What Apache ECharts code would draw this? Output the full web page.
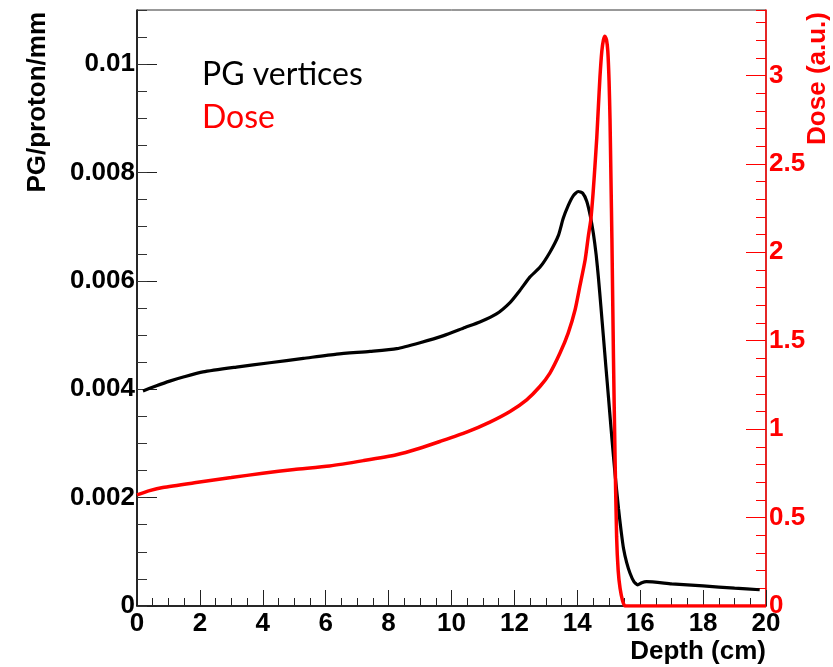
<!DOCTYPE html>
<html>
<head>
<meta charset="utf-8">
<script src="https://cdn.jsdelivr.net/npm/echarts@6/dist/echarts.min.js"></script>
<style>
  html, body { margin: 0; padding: 0; background: #fff; }
  #chart { width: 833px; height: 667px; }
</style>
</head>
<body>
<div id="chart"></div>
<script>
// Prompt-gamma vertex yield (left axis) and dose profile (right axis) vs depth
const pgDepth = [0.19, 0.6, 1.04, 1.5, 2.1, 3.16, 4.22, 5.29, 6.35, 7.41, 8.26, 9.0, 9.75, 10.43, 10.9, 11.43, 11.86, 12.17, 12.49, 12.81, 13.13, 13.4, 13.55, 13.71, 13.87, 14.03, 14.17, 14.3, 14.42, 14.51, 14.6, 14.67, 14.75, 14.83, 14.91, 14.99, 15.07, 15.15, 15.23, 15.31, 15.39, 15.47, 15.57, 15.68, 15.8, 15.92, 16.05, 16.2, 17.0, 18.0, 19.0, 19.8];
const pgValue = [0.00397, 0.00406, 0.00415, 0.00423, 0.00432, 0.00441, 0.00449, 0.00457, 0.00465, 0.0047, 0.00475, 0.00486, 0.00499, 0.00514, 0.00524, 0.00539, 0.0056, 0.00582, 0.00607, 0.00625, 0.00653, 0.00684, 0.00715, 0.00739, 0.00757, 0.00765, 0.00762, 0.00747, 0.00718, 0.00688, 0.00648, 0.00607, 0.00553, 0.00497, 0.00441, 0.00386, 0.0033, 0.00276, 0.00226, 0.0018, 0.0014, 0.00106, 0.0008, 0.0006, 0.00045, 0.00039, 0.00043, 0.00045, 0.00041, 0.00037, 0.00033, 0.0003];

const doseDepth = [0.0, 0.4, 0.82, 1.88, 3.0, 4.0, 5.0, 6.12, 7.2, 8.25, 8.99, 9.63, 10.48, 11.22, 11.86, 12.39, 12.81, 13.13, 13.45, 13.71, 13.93, 14.08, 14.25, 14.35, 14.43, 14.5, 14.56, 14.62, 14.67, 14.72, 14.78, 14.83, 14.88, 14.93, 14.97, 15.01, 15.04, 15.07, 15.1, 15.15, 15.2, 15.25, 15.3, 15.36, 15.44, 15.52, 16.0, 20.0];
const doseValue = [0.628, 0.652, 0.67, 0.698, 0.726, 0.751, 0.772, 0.792, 0.822, 0.855, 0.892, 0.93, 0.983, 1.04, 1.1, 1.166, 1.241, 1.317, 1.43, 1.543, 1.675, 1.807, 1.958, 2.09, 2.185, 2.33, 2.485, 2.65, 2.822, 2.99, 3.137, 3.2, 3.222, 3.2, 3.137, 2.97, 2.755, 2.42, 2.08, 1.405, 0.843, 0.392, 0.2, 0.1, 0.03, 0.0, 0.0, 0.0];

const legendLabels = ['PG vertices', 'Dose'];
const axisTitles = { x: 'Depth (cm)', yLeft: 'PG/proton/mm', yRight: 'Dose (a.u.)' };

const RED = '#ff0000';
const tickFont = { fontFamily: 'Liberation Sans', fontWeight: 'bold', fontSize: 26 };

const chart = echarts.init(document.getElementById('chart'), null, { renderer: 'canvas' });

function trimNum(v) { return String(parseFloat(v.toFixed(5))); }
function majorOnly(step) {
  return function (v) {
    const k = Math.round(v / step);
    return Math.abs(k * step - v) < 1e-9 ? trimNum(v) : '';
  };
}

const pgData = pgDepth.map((d, i) => [d, pgValue[i]]);
const doseData = doseDepth.map((d, i) => [d, doseValue[i]]);

chart.setOption({
  animation: false,
  backgroundColor: '#fff',
  grid: { left: 137, right: 67, top: 10, bottom: 61, show: true, borderColor: '#333', borderWidth: 1, backgroundColor: 'transparent' },
  xAxis: [
    {
      type: 'value', min: 0, max: 20, interval: 2, position: 'bottom',
      axisLine: { lineStyle: { color: '#000', width: 1.5 } },
      axisTick: { inside: true, length: 16, lineStyle: { color: '#222', width: 1 } },
      axisLabel: Object.assign({ color: '#000', margin: 5, formatter: majorOnly(2) }, tickFont),
      splitLine: { show: false }
    },
    {
      type: 'value', min: 0, max: 20, interval: 0.5, position: 'bottom',
      axisLine: { show: false },
      axisTick: { inside: true, length: 8, lineStyle: { color: '#222', width: 1 } },
      axisLabel: { show: false },
      splitLine: { show: false }
    }
  ],
  yAxis: [
    {
      type: 'value', min: 0, max: 0.011, interval: 0.002, position: 'left',
      axisLine: { show: true, lineStyle: { color: '#000', width: 1.5 } },
      axisTick: { inside: true, length: 20, lineStyle: { color: '#222', width: 1 } },
      axisLabel: Object.assign({ color: '#000', margin: 2, showMaxLabel: false, formatter: majorOnly(0.002) }, tickFont),
      splitLine: { show: false }
    },
    {
      type: 'value', min: 0, max: 0.011, interval: 0.0005, position: 'left',
      axisLine: { show: false },
      axisTick: { inside: true, length: 10, lineStyle: { color: '#333', width: 1 } },
      axisLabel: { show: false },
      splitLine: { show: false }
    },
    {
      type: 'value', min: 0, max: 3.37, interval: 0.5, position: 'right',
      axisLine: { show: true, lineStyle: { color: RED, width: 1.5 } },
      axisTick: { inside: true, length: 20, lineStyle: { color: RED, width: 1 } },
      axisLabel: Object.assign({ color: RED, margin: 3, showMaxLabel: false, formatter: majorOnly(0.5) }, tickFont),
      splitLine: { show: false }
    },
    {
      type: 'value', min: 0, max: 3.37, interval: 0.1, position: 'right',
      axisLine: { show: false },
      axisTick: { inside: true, length: 10, lineStyle: { color: RED, width: 1 } },
      axisLabel: { show: false },
      splitLine: { show: false }
    }
  ],
  series: [
    {
      name: legendLabels[0], type: 'line', xAxisIndex: 0, yAxisIndex: 0,
      data: pgData, showSymbol: false, smooth: 0.2,
      lineStyle: { color: '#000', width: 3.2 }, z: 3
    },
    {
      name: legendLabels[1], type: 'line', xAxisIndex: 0, yAxisIndex: 2,
      data: doseData, showSymbol: false, smooth: 0.2,
      lineStyle: { color: RED, width: 3.5 }, z: 4
    }
  ],
  graphic: [
    { type: 'text', x: 202, y: 75, style: { text: legendLabels[0], fill: '#000', font: '32px Lato', align: 'left', verticalAlign: 'middle' } },
    { type: 'text', x: 202, y: 118, style: { text: legendLabels[1], fill: RED, font: '32px Lato', align: 'left', verticalAlign: 'middle' } },
    { type: 'text', x: 766, y: 652, style: { text: axisTitles.x, fill: '#000', font: 'bold 26px "Liberation Sans"', align: 'right', verticalAlign: 'middle' } },
    { type: 'text', x: 38, y: 12, rotation: Math.PI / 2, style: { text: axisTitles.yLeft, fill: '#000', font: 'bold 26px "Liberation Sans"', align: 'right', verticalAlign: 'middle' } },
    { type: 'text', x: 818, y: 12, rotation: Math.PI / 2, style: { text: axisTitles.yRight, fill: RED, font: 'bold 26px "Liberation Sans"', align: 'right', verticalAlign: 'middle' } }
  ]
});
</script>
</body>
</html>
